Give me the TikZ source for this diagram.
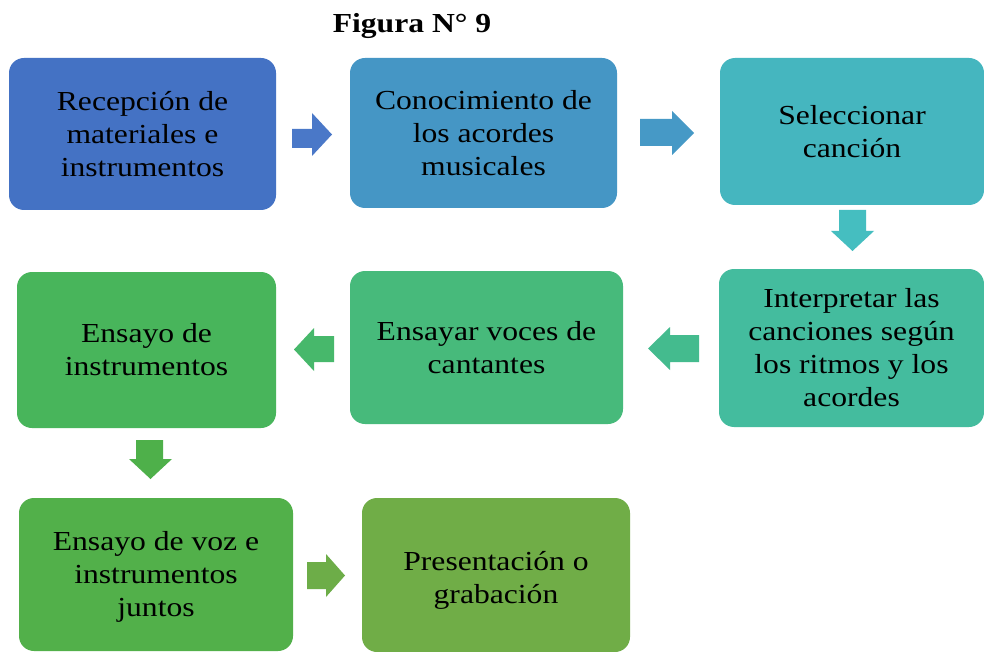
\documentclass[tikz,border=0pt]{standalone}
\usepackage{fontspec}
\setmainfont{Liberation Serif}[FakeStretch=1.15]
\begin{document}
\begin{tikzpicture}[x=1pt,y=-1pt,
  box/.style={rounded corners=15pt, inner sep=0pt, align=center,
    font=\fontsize{27.5}{33}\selectfont, text=black},
  boxtext/.style={inner sep=0pt, align=center,
    font=\fontsize{27.5}{33}\selectfont, text=black},
  ]
\definecolor{c1}{HTML}{4472C4}
\definecolor{c2}{HTML}{4596C5}
\definecolor{c3}{HTML}{45B6BF}
\definecolor{c4}{HTML}{44BC9E}
\definecolor{c5}{HTML}{47BA7B}
\definecolor{c6}{HTML}{48B55B}
\definecolor{c7}{HTML}{52B04A}
\definecolor{c8}{HTML}{70AD47}
\definecolor{a1}{HTML}{4A78C8}
\definecolor{a2}{HTML}{4699C6}
\definecolor{a3}{HTML}{45BEC0}
\definecolor{a4}{HTML}{44BB8E}
\definecolor{a5}{HTML}{47B86B}
\definecolor{a6}{HTML}{4EB04A}
\definecolor{a7}{HTML}{6DAD48}
\useasboundingbox (0,0) rectangle (984,652);
\fill[white] (0,0) rectangle (984,652);

\node[font=\fontsize{27.5}{33}\selectfont\bfseries, anchor=base] (title) at (412,33) {Figura N° 9};

\node[box, fill=c1, minimum width=267pt, minimum height=152pt] (b1) at (142.5,134) {Recepción de\\materiales e\\instrumentos};
\node[box, fill=c2, minimum width=267pt, minimum height=150pt] (b2) at (483.5,133) {Conocimiento de\\los acordes\\musicales};
\node[box, fill=c3, minimum width=264pt, minimum height=147pt] (b3) at (852,131.5) {Seleccionar\\canción};
\node[box, fill=c4, minimum width=265pt, minimum height=158pt] (b4) at (851.5,348) {Interpretar las\\canciones según\\los ritmos y los\\acordes};
\node[box, fill=c5, minimum width=273pt, minimum height=153pt] (b5) at (486.5,347.5) {Ensayar voces de\\cantantes};
\node[box, fill=c6, minimum width=259pt, minimum height=156pt] (b6) at (146.5,350) {Ensayo de\\instrumentos};
\node[box, fill=c7, minimum width=274pt, minimum height=153pt] (b7) at (156,574.5) {};
\node[boxtext] (b7t) at ([yshift=-2.5pt]b7.center) {Ensayo de voz e\\instrumentos\\juntos};
\node[box, fill=c8, minimum width=268pt, minimum height=154pt] (b8) at (496,575) {};
\node[boxtext] (b8t) at ([yshift=-5pt]b8.center) {Presentación o\\grabación};

% block arrows
\fill[a1] (292,129) -- (312,129) -- (312,113) -- (332,134.5) -- (312,156) -- (312,148) -- (292,148) -- cycle;
\fill[a2] (640,119) -- (672,119) -- (672,111) -- (694,133) -- (672,155) -- (672,146) -- (640,146) -- cycle;
\fill[a3] (839,210) -- (866,210) -- (866,231) -- (874,231) -- (852.5,251) -- (831,231) -- (839,231) -- cycle;
\fill[a4] (699,335) -- (670,335) -- (670,327) -- (648,348.5) -- (670,370) -- (670,362) -- (699,362) -- cycle;
\fill[a5] (334,336) -- (314,336) -- (314,328) -- (294,349.5) -- (314,371) -- (314,362) -- (334,362) -- cycle;
\fill[a6] (136,440) -- (163,440) -- (163,459) -- (172,459) -- (150.5,479) -- (129,459) -- (136,459) -- cycle;
\fill[a7] (307,562) -- (326,562) -- (326,554) -- (345,575.5) -- (326,597) -- (326,589) -- (307,589) -- cycle;
\end{tikzpicture}
\end{document}
